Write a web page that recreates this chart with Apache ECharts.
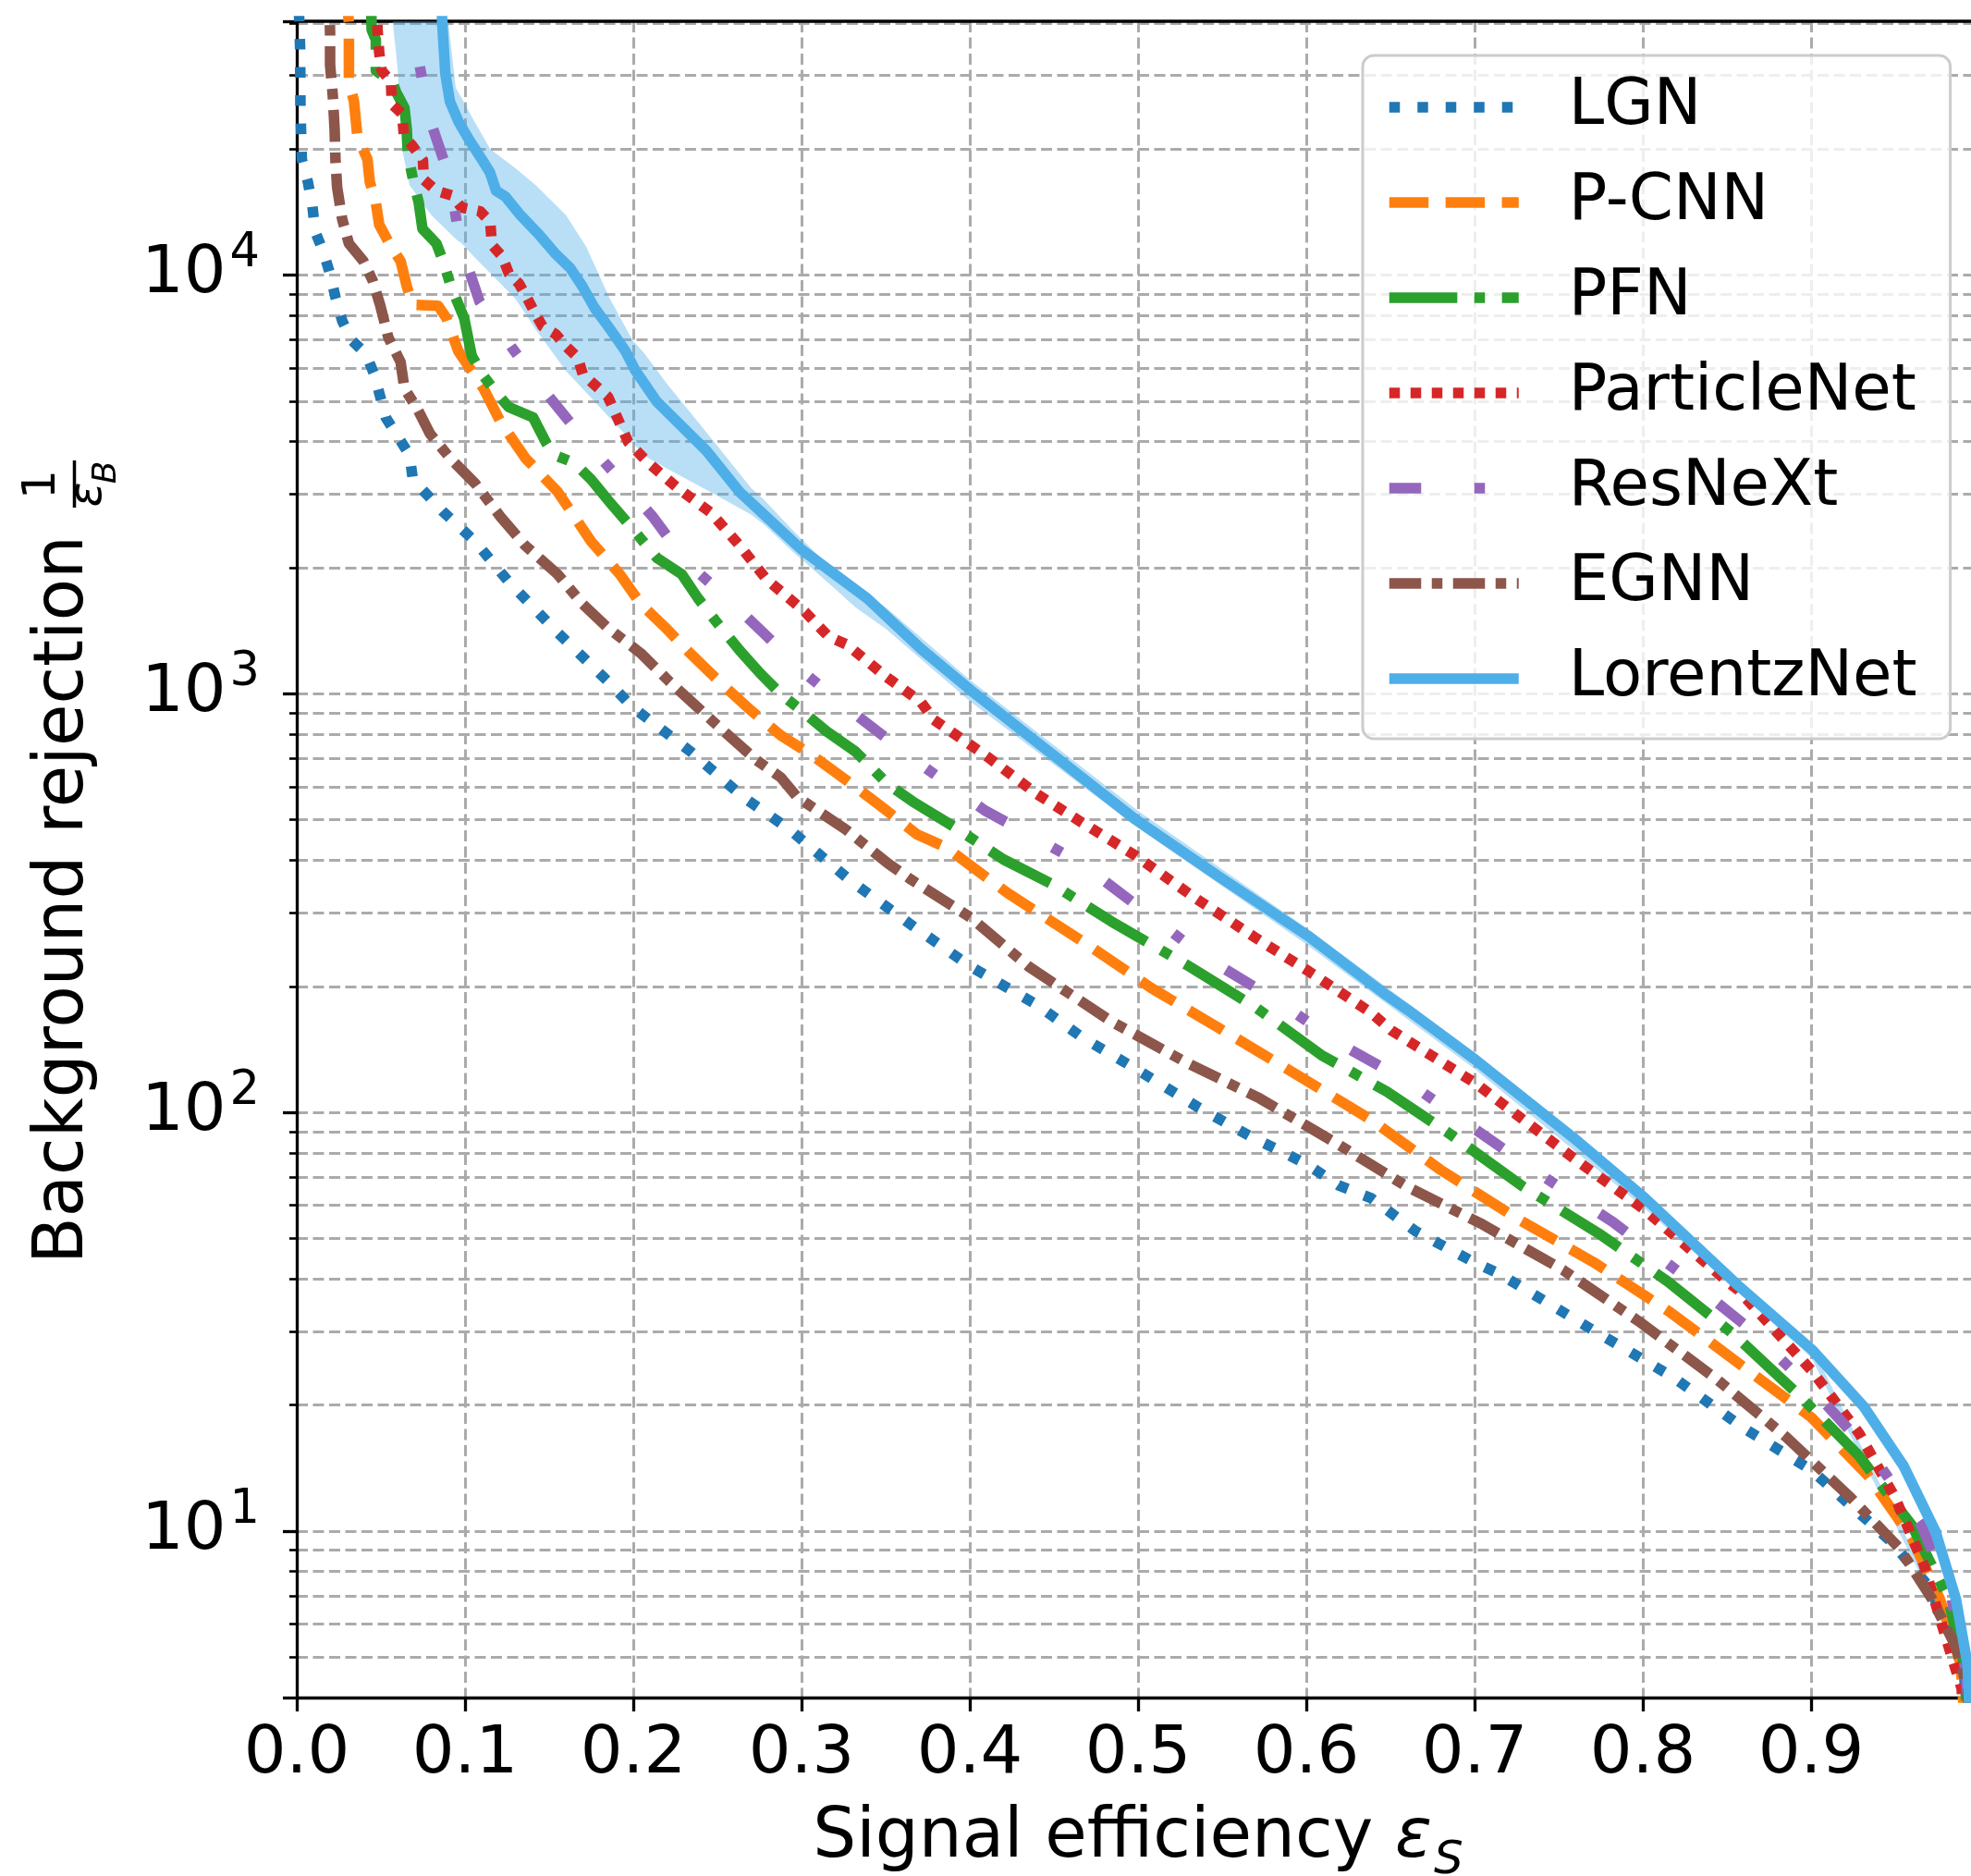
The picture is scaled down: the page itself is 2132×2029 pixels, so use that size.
<!DOCTYPE html>
<html><head><meta charset="utf-8">
<script src="https://cdn.jsdelivr.net/npm/echarts@6/dist/echarts.min.js"></script>
<style>html,body{margin:0;padding:0;background:#fff}#c{width:2132px;height:2029px}</style>
</head><body><div id="c"></div>
<script>
const seriesNames = ['LGN', 'P-CNN', 'PFN', 'ParticleNet', 'ResNeXt', 'EGNN', 'LorentzNet'];

const lgnEff = [0.0008, 0.002, 0.0022, 0.003, 0.0066, 0.0093, 0.011, 0.016, 0.020, 0.023, 0.027, 0.0325, 0.041, 0.046, 0.053, 0.067, 0.069, 0.087, 0.106, 0.126, 0.155, 0.185, 0.199, 0.234, 0.2657, 0.2926, 0.329, 0.366, 0.4005, 0.4396, 0.4668, 0.4987, 0.5354, 0.567, 0.587, 0.6016, 0.619, 0.6385, 0.665, 0.699, 0.7145, 0.7685, 0.818, 0.86, 0.9, 0.9215, 0.948, 0.969, 0.981, 0.9907, 1.0];
const lgnRej = [50000, 34700, 25000, 18900, 16700, 14600, 12700, 11300, 10000, 8850, 7780, 7000, 6490, 5800, 4560, 3720, 3250, 2720, 2310, 1850, 1400, 1070, 933, 728, 565, 475, 358, 279, 223, 181, 151, 127, 103, 87.5, 80, 74.6, 67, 62.4, 52, 44, 41.2, 30.5, 23.3, 17.6, 14, 11.7, 9.4, 7.45, 6.0, 4.8, 1];

const pcnnEff = [0.029, 0.031, 0.031, 0.034, 0.036, 0.042, 0.0434, 0.047, 0.049, 0.056, 0.0617, 0.0654, 0.069, 0.084, 0.089, 0.096, 0.111, 0.121, 0.136, 0.155, 0.175, 0.192, 0.2044, 0.219, 0.2337, 0.251, 0.270, 0.2877, 0.307, 0.327, 0.3466, 0.3687, 0.3857, 0.4225, 0.4717, 0.508, 0.5575, 0.5943, 0.6385, 0.680, 0.7268, 0.771, 0.8163, 0.859, 0.9, 0.9336, 0.96, 0.9764, 0.989, 1.0];
const pcnnRej = [50000, 40000, 29000, 26000, 21500, 18900, 16700, 14900, 13200, 11700, 10800, 9400, 8490, 8450, 7890, 6580, 5360, 4470, 3650, 3040, 2310, 1930, 1640, 1440, 1250, 1070, 912, 795, 710, 620, 541, 461, 430, 334, 249, 198, 151, 123, 96, 72.8, 55.3, 43.8, 33.3, 24.8, 18.7, 13.6, 9.6, 6.9, 4.8, 1];

const pfnEff = [0.044, 0.0445, 0.047, 0.047, 0.057, 0.059, 0.064, 0.0654, 0.066, 0.069, 0.0725, 0.0747, 0.083, 0.087, 0.0915, 0.0995, 0.104, 0.111, 0.1185, 0.126, 0.1405, 0.148, 0.153, 0.165, 0.175, 0.185, 0.1995, 0.2141, 0.2288, 0.2385, 0.2485, 0.2632, 0.2753, 0.2877, 0.300, 0.3147, 0.332, 0.3515, 0.366, 0.3907, 0.420, 0.4495, 0.484, 0.5306, 0.570, 0.609, 0.648, 0.685, 0.729, 0.7734, 0.815, 0.8544, 0.8934, 0.9286, 0.96, 0.9814, 0.991, 1.0];
const pfnRej = [50000, 38600, 36500, 30800, 28800, 27400, 25100, 22300, 19500, 17000, 14900, 12900, 11900, 10800, 9440, 7890, 6410, 5740, 5240, 4840, 4570, 3990, 3720, 3560, 3250, 2900, 2480, 2110, 1930, 1690, 1500, 1270, 1120, 998, 912, 814, 728, 607, 553, 481, 402, 350, 286, 223, 178, 137, 112, 89, 66.4, 51.5, 39.4, 29.4, 21, 15.1, 10.3, 6.9, 4.8, 1];

const pnetEff = [0.047, 0.048, 0.049, 0.0505, 0.056, 0.0565, 0.0626, 0.0637, 0.069, 0.075, 0.0755, 0.083, 0.092, 0.098, 0.109, 0.115, 0.116, 0.122, 0.126, 0.132, 0.137, 0.141, 0.146, 0.154, 0.160, 0.167, 0.170, 0.185, 0.197, 0.209, 0.2264, 0.246, 0.2632, 0.279, 0.302, 0.316, 0.327, 0.350, 0.371, 0.3786, 0.4105, 0.4396, 0.4668, 0.4987, 0.533, 0.570, 0.6016, 0.6385, 0.6505, 0.701, 0.7587, 0.801, 0.85, 0.8566, 0.901, 0.9286, 0.950, 0.967, 0.9787, 0.9895, 1.0];
const pnetRej = [50000, 38600, 34000, 30800, 29000, 25600, 24300, 21500, 20300, 18800, 16900, 15900, 15500, 14500, 14200, 13400, 11800, 11100, 10100, 9550, 8800, 8200, 7550, 7220, 6760, 6350, 5800, 5120, 3990, 3560, 3100, 2710, 2260, 1880, 1570, 1370, 1310, 1100, 955, 867, 707, 577, 492, 410, 327, 261, 217, 173, 157, 117, 77.8, 58.6, 39.5, 37.7, 24, 17.1, 12, 8.3, 5.8, 4.2, 1];

const resEff = [0.066, 0.072, 0.078, 0.091, 0.097, 0.1087, 0.128, 0.148, 0.170, 0.192, 0.2115, 0.2313, 0.2558, 0.278, 0.3024, 0.3294, 0.366, 0.409, 0.4445, 0.4668, 0.5025, 0.539, 0.5797, 0.621, 0.6593, 0.6984, 0.739, 0.7825, 0.823, 0.864, 0.902, 0.937, 0.9657, 0.9835, 0.992, 1.0];
const resRej = [50000, 33500, 24300, 17000, 11900, 8630, 6700, 5240, 4080, 3250, 2650, 2070, 1690, 1390, 1115, 910, 700, 526, 440, 392, 305, 236, 188, 145, 119, 92.3, 71.1, 54.6, 41.1, 30.3, 21.5, 15.1, 10.3, 6.9, 4.6, 1];

const egnnEff = [0.019, 0.0198, 0.0198, 0.0214, 0.0225, 0.023, 0.024, 0.027, 0.031, 0.0396, 0.045, 0.0495, 0.0544, 0.0617, 0.064, 0.0718, 0.0792, 0.0915, 0.106, 0.121, 0.1357, 0.155, 0.1698, 0.1846, 0.2044, 0.2214, 0.2484, 0.273, 0.2877, 0.2975, 0.326, 0.3515, 0.365, 0.4005, 0.435, 0.484, 0.528, 0.5723, 0.6165, 0.660, 0.7047, 0.7527, 0.7975, 0.8436, 0.885, 0.9236, 0.9525, 0.9717, 0.986, 0.993, 1.0];
const egnnRej = [50000, 38000, 31800, 26900, 22300, 18800, 16200, 13600, 11900, 10800, 9730, 8500, 7100, 6200, 5360, 4780, 4180, 3640, 3180, 2650, 2260, 1930, 1640, 1440, 1250, 1070, 851, 695, 631, 566, 475, 393, 360, 292, 223, 165, 132, 108, 85, 66.4, 54, 42, 31.7, 23.1, 16.8, 12, 9.1, 6.9, 5.3, 4.2, 1];

const lnetEff = [0.0855, 0.0865, 0.0883, 0.091, 0.0965, 0.102, 0.1093, 0.1148, 0.1185, 0.124, 0.133, 0.144, 0.1533, 0.1625, 0.1698, 0.177, 0.1863, 0.1954, 0.201, 0.2137, 0.2434, 0.263, 0.300, 0.339, 0.371, 0.4005, 0.435, 0.4987, 0.548, 0.601, 0.648, 0.660, 0.701, 0.7587, 0.801, 0.8566, 0.901, 0.931, 0.955, 0.974, 0.986, 0.993, 1.0];
const lnetRej = [50000, 39800, 30300, 26000, 23100, 21200, 19100, 17600, 15900, 15400, 13900, 12500, 11300, 10400, 9400, 8350, 7420, 6580, 5940, 5000, 3810, 3040, 2210, 1690, 1280, 1020, 794, 500, 366, 264, 190, 176, 133, 87, 62.5, 38.6, 27, 19.9, 14.3, 9.96, 6.9, 4.8, 1];

const bandEff = [0.057, 0.060, 0.0626, 0.067, 0.08, 0.09, 0.0945, 0.098, 0.105, 0.115, 0.13, 0.142, 0.16, 0.172, 0.186, 0.1995, 0.2066, 0.22, 0.248, 0.27, 0.278, 0.295, 0.32, 0.332, 0.35, 0.40, 0.50, 0.60, 0.70, 0.80, 0.90, 0.993];
const bandHigh = [40400, 40400, 40400, 40400, 40400, 40400, 28000, 26500, 23500, 20000, 18000, 16400, 13900, 11700, 8800, 7000, 6500, 5500, 4000, 3100, 2900, 2450, 1950, 1800, 1610, 1080, 525, 276, 139, 64.5, 27.8, 4.9];
const bandLow = [40400, 31000, 20000, 16400, 13900, 12700, 12200, 11900, 11100, 10100, 8770, 7420, 5900, 5240, 4560, 3990, 3700, 3450, 3000, 2680, 2530, 2180, 1780, 1610, 1430, 960, 478, 252, 127, 59.5, 26, 4.7];

const yPowers = [1, 2, 3, 4];

const FONT = 'DejaVu Sans';
const GRID_COLOR = '#ababab';

function pairs(xs, ys) { return xs.map((x, i) => [x, ys[i]]); }

function lineSeries(name, eff, rej, color, dash, z) {
  return {
    name: name, type: 'line', data: pairs(eff, rej),
    symbol: 'none', showSymbol: false, clip: true, z: z,
    lineStyle: { color: color, width: 11.5, type: dash, cap: 'butt', join: 'round' },
    itemStyle: { color: color, opacity: 0 },
    emphasis: { disabled: true }, animation: false
  };
}

const chart = echarts.init(document.getElementById('c'), null, { renderer: 'canvas', width: 2132, height: 2029 });

const option = {
  animation: false,
  backgroundColor: '#ffffff',
  grid: { left: 321, right: -9, top: 23, bottom: 193, show: false, containLabel: false, outerBoundsMode: 'none' },
  xAxis: [{
    type: 'value', min: 0, max: 1, interval: 0.1,
    axisLine: { show: true, onZero: false, lineStyle: { color: '#000', width: 3.3 } },
    axisTick: { show: true, length: 15, lineStyle: { color: '#000', width: 3.3 } },
    splitLine: { show: true, lineStyle: { color: GRID_COLOR, width: 3, type: [12, 5.5] } },
    axisLabel: {
      show: true, color: '#000', fontFamily: FONT, fontSize: 72, margin: 26,
      formatter: function (v) { return v > 0.95 ? '' : v.toFixed(1); }
    },
    name: '{n|Signal efficiency }{e|ε}{s|S}',
    nameLocation: 'middle', nameGap: 112,
    nameTextStyle: {
      color: '#000', fontFamily: FONT, fontSize: 74,
      rich: {
        n: { fontFamily: FONT, fontSize: 74, color: '#000', lineHeight: 90, verticalAlign: 'bottom', padding: [0, 0, 12, 0] },
        e: { fontFamily: FONT, fontStyle: 'italic', fontSize: 74, color: '#000', lineHeight: 90, verticalAlign: 'bottom', padding: [0, 0, 12, 0] },
        s: { fontFamily: FONT, fontStyle: 'italic', fontSize: 50, color: '#000', lineHeight: 60, verticalAlign: 'bottom', padding: [0, 0, 0, 2] }
      }
    }
  }, {
    type: 'value', position: 'top', min: 0, max: 1,
    axisLine: { show: true, onZero: false, lineStyle: { color: '#000', width: 3.5 } },
    axisTick: { show: false }, axisLabel: { show: false }, splitLine: { show: false }
  }],
  yAxis: {
    type: 'log', logBase: 10, min: 4, max: 40400,
    axisLine: { show: true, onZero: false, lineStyle: { color: '#000', width: 3.3 } },
    axisTick: { show: true, length: 15, lineStyle: { color: '#000', width: 3.3 } },
    minorTick: { show: true, splitNumber: 9, length: 8, lineStyle: { color: '#000', width: 2.6 } },
    splitLine: { show: true, lineStyle: { color: GRID_COLOR, width: 3, type: [12, 5.5] } },
    minorSplitLine: { show: true, lineStyle: { color: GRID_COLOR, width: 3, type: [12, 5.5] } },
    axisLabel: {
      show: true, margin: 40, color: '#000', fontFamily: FONT, fontSize: 72,
      showMinLabel: true, showMaxLabel: true,
      formatter: function (v) {
        const e = Math.log10(v);
        const r = Math.round(e);
        if (Math.abs(e - r) < 1e-6 && yPowers.indexOf(r) >= 0) return '{b|10}{s|' + r + '}';
        return '';
      },
      rich: {
        b: { fontFamily: FONT, fontSize: 72, color: '#000', lineHeight: 72, verticalAlign: 'bottom' },
        s: { fontFamily: FONT, fontSize: 51, color: '#000', lineHeight: 51, verticalAlign: 'bottom', padding: [0, 0, 33, 4] }
      }
    }
  },
  legend: {
    show: true, orient: 'vertical', left: 1474, top: 60,
    itemWidth: 140, itemHeight: 12, itemGap: 23,
    padding: [16, 36, 25, 23],
    backgroundColor: 'rgba(255,255,255,0.8)', borderColor: '#cccccc', borderWidth: 3, borderRadius: 12,
    itemStyle: { opacity: 0 },
    lineStyle: { width: 11.5, cap: 'butt' },
    textStyle: { fontFamily: FONT, fontSize: 69, color: '#000', lineHeight: 80, padding: [0, 0, 0, 49] },
    data: seriesNames,
    selectedMode: false
  },
  graphic: [{
    type: 'group', x: 70, y: 1367, rotation: Math.PI / 2, silent: true,
    children: [
      { type: 'text', x: 0, y: 0, style: { text: 'Background rejection', fontFamily: FONT, fontSize: 74, fill: '#000', align: 'left', verticalAlign: 'middle', textAlign: 'left', textVerticalAlign: 'middle' } },
      { type: 'text', x: 843, y: -24, style: { text: '1', fontFamily: FONT, fontSize: 50, fill: '#000', align: 'center', verticalAlign: 'middle', textAlign: 'center', textVerticalAlign: 'middle' } },
      { type: 'line', shape: { x1: 818, y1: 10.5, x2: 869, y2: 10.5 }, style: { stroke: '#000', lineWidth: 3.5 } },
      { type: 'text', x: 832, y: 26, style: { text: 'ε', fontFamily: FONT, fontStyle: 'italic', fontSize: 50, fill: '#000', align: 'center', verticalAlign: 'middle', textAlign: 'center', textVerticalAlign: 'middle' } },
      { type: 'text', x: 856, y: 46, style: { text: 'B', fontFamily: FONT, fontStyle: 'italic', fontSize: 36, fill: '#000', align: 'center', verticalAlign: 'middle', textAlign: 'center', textVerticalAlign: 'middle' } }
    ]
  }],
  series: [
    {
      name: 'LorentzNet band', type: 'custom', z: 1, silent: true, clip: true,
      data: [[bandEff[0], bandLow[0]]],
      renderItem: function (params, api) {
        if (params.dataIndex !== 0) return null;
        const pts = [];
        for (let i = 0; i < bandEff.length; i++) pts.push(api.coord([bandEff[i], bandHigh[i]]));
        for (let i = bandEff.length - 1; i >= 0; i--) pts.push(api.coord([bandEff[i], bandLow[i]]));
        return { type: 'polygon', shape: { points: pts }, style: { fill: 'rgba(78,174,232,0.4)', stroke: null } };
      }
    },
    lineSeries('LGN', lgnEff, lgnRej, '#1f77b4', [11.5, 19], 3),
    lineSeries('P-CNN', pcnnEff, pcnnRej, '#ff7f0e', [42.5, 18.4], 4),
    lineSeries('PFN', pfnEff, pfnRej, '#2ca02c', [73.6, 18.4, 11.5, 18.4], 5),
    lineSeries('ParticleNet', pnetEff, pnetRej, '#d62728', [11.5, 11.5], 6),
    lineSeries('ResNeXt', resEff, resRej, '#9467bd', [34.5, 57.5, 11.5, 57.5], 7),
    lineSeries('EGNN', egnnEff, egnnRej, '#8c564b', [34.5, 11.5, 11.5, 11.5], 8),
    lineSeries('LorentzNet', lnetEff, lnetRej, '#4eaee8', 'solid', 9)
  ]
};
chart.setOption(option);
</script>
</body></html>
